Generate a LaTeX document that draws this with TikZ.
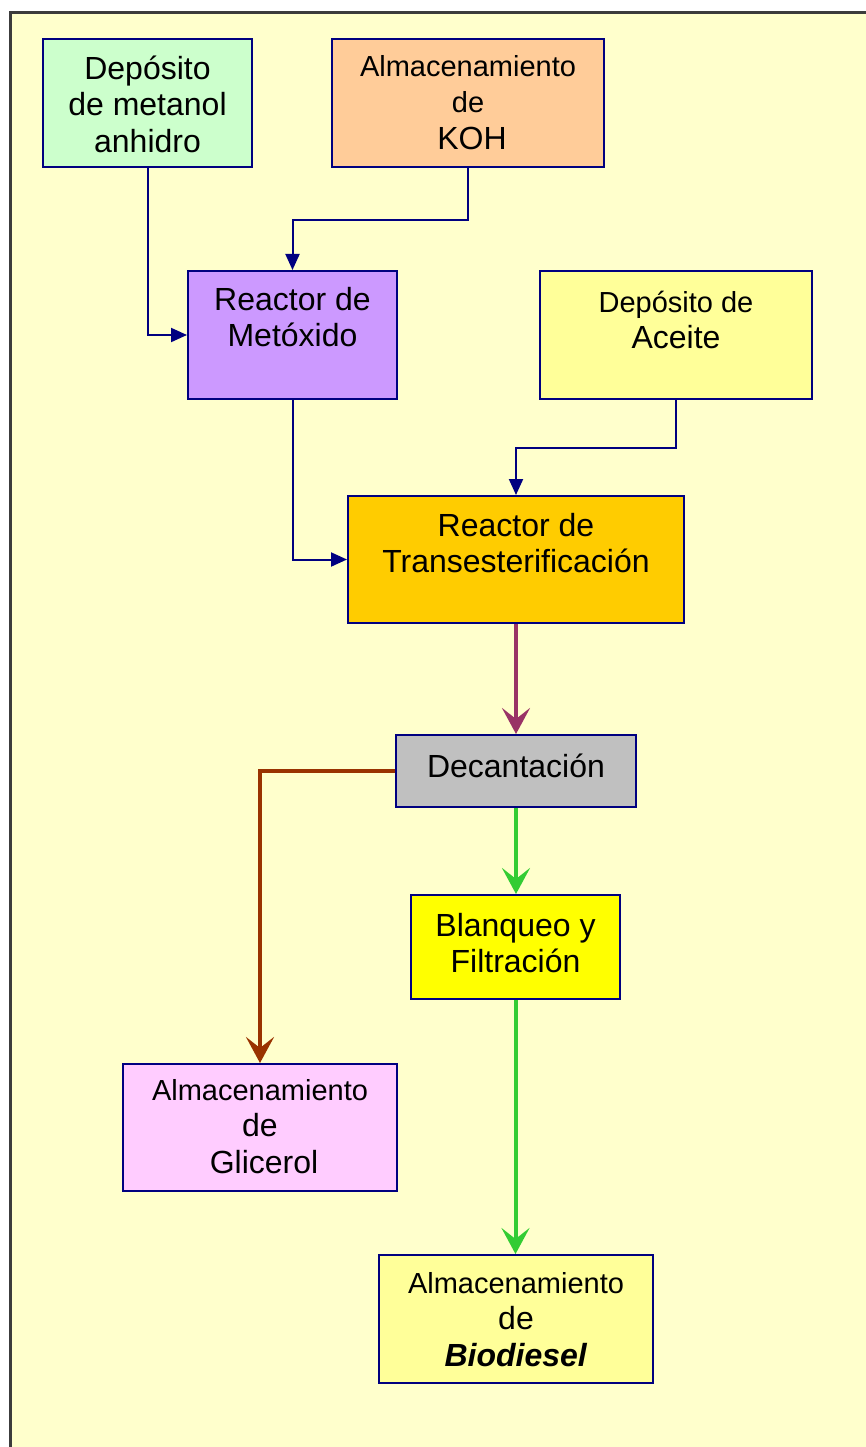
\documentclass[tikz,border=0pt]{standalone}
\usepackage{fontspec}
\setmainfont{Liberation Sans}
\usetikzlibrary{arrows.meta,calc}
\definecolor{bgyellow}{HTML}{FFFFCC}
\definecolor{framegray}{HTML}{3C3C3C}
\definecolor{navyline}{HTML}{000080}
\definecolor{cmetanol}{HTML}{CCFFCC}
\definecolor{ckoh}{HTML}{FFCC99}
\definecolor{cmetox}{HTML}{CC99FF}
\definecolor{caceite}{HTML}{FFFF99}
\definecolor{ctrans}{HTML}{FFCC00}
\definecolor{cdecant}{HTML}{C0C0C0}
\definecolor{cblanq}{HTML}{FFFF00}
\definecolor{cglic}{HTML}{FFCCFF}
\definecolor{cbiod}{HTML}{FFFF99}
\definecolor{cpurple}{HTML}{993366}
\definecolor{cbrown}{HTML}{993300}
\definecolor{cgreen}{HTML}{33CC33}
\newcommand{\bigfont}{\fontsize{32}{36.5}\selectfont}
\newcommand{\smallfont}{\fontsize{29}{36.5}\selectfont}
\newcommand{\topstrut}{\rule{0pt}{26pt}}
\begin{document}
\begin{tikzpicture}[x=1pt,y=-1pt,
  box/.style={draw=navyline, line width=2pt, rectangle, inner sep=0pt, anchor=north west},
  lbl/.style={anchor=north, align=center, inner sep=0pt, font=\bigfont, text=black},
  navyarrow/.style={draw=navyline, line width=2pt, -{Triangle[length=16pt,width=14pt]}},
  thickarrow/.style={line width=4pt, -{Stealth[length=26pt,width=28pt,inset=11pt]}},
]
\useasboundingbox (0,0) rectangle (866,1447);
\clip (0,0) rectangle (866,1447);
\fill[white] (0,0) rectangle (866,1447);
\draw[framegray, line width=3pt, fill=bgyellow] (10.5,12.5) rectangle (890,1470);

% boxes
\node[box, fill=cmetanol, minimum width=209pt, minimum height=128pt] (metanol) at (42,38) {};
\node[box, fill=ckoh, minimum width=272pt, minimum height=128pt] (koh) at (331,38) {};
\node[box, fill=cmetox, minimum width=209pt, minimum height=128pt] (metox) at (187,270) {};
\node[box, fill=caceite, minimum width=272pt, minimum height=128pt] (aceite) at (539,270) {};
\node[box, fill=ctrans, minimum width=336pt, minimum height=127pt] (trans) at (347,495) {};
\node[box, fill=cdecant, minimum width=240pt, minimum height=72pt] (decant) at (395,734) {};
\node[box, fill=cblanq, minimum width=209pt, minimum height=104pt] (blanq) at (410,894) {};
\node[box, fill=cglic, minimum width=274pt, minimum height=127pt] (glic) at (122,1063) {};
\node[box, fill=cbiod, minimum width=274pt, minimum height=128pt] (biod) at (378,1254) {};

% texts
\node[lbl] (metanolT) at ($(metanol.north)+(0,15)$) {\topstrut Depósito\\de metanol\\anhidro};
\node[lbl] (kohT) at ($(koh.north)+(0,12)$) {\topstrut{\smallfont Almacenamiento}\\{\smallfont de}\\\hspace*{8pt}KOH};
\node[lbl] (metoxT) at ($(metox.north)+(0,14)$) {\topstrut Reactor de\\Metóxido};
\node[lbl] (aceiteT) at ($(aceite.north)+(0,16)$) {\topstrut{\smallfont Depósito de}\\Aceite};
\node[lbl] (transT) at ($(trans.north)+(0,15)$) {\topstrut Reactor de\\Transesterificación};
\node[lbl] (decantT) at ($(decant.north)+(0,17)$) {\topstrut Decantación};
\node[lbl] (blanqT) at ($(blanq.north)+(0,16)$) {\topstrut Blanqueo y\\Filtración};
\node[lbl] (glicT) at ($(glic.north)+(0,11)$) {\topstrut{\smallfont Almacenamiento}\\de\\\hspace*{8pt}Glicerol};
\node[lbl] (biodT) at ($(biod.north)+(0,13)$) {\topstrut{\smallfont Almacenamiento}\\de\\\textbf{\textit{Biodiesel}}};

% connectors
\draw[navyarrow] (metanol.south) |- (metox.west);
\draw[navyarrow] (koh.south) -- ++(0,52) -| (metox.north);
\draw[navyarrow] (metox.south) |- (trans.west);
\draw[navyarrow] (aceite.south) -- ++(0,48) -| (trans.north);
\draw[thickarrow, draw=cpurple] (trans.south) -- (decant.north);
\draw[thickarrow, draw=cbrown] (decant.west) -| (glic.north);
\draw[thickarrow, draw=cgreen] (decant.south) -- (decant.south |- blanq.north);
\draw[thickarrow, draw=cgreen] (blanq.south) -- (blanq.south |- biod.north);
\end{tikzpicture}
\end{document}
